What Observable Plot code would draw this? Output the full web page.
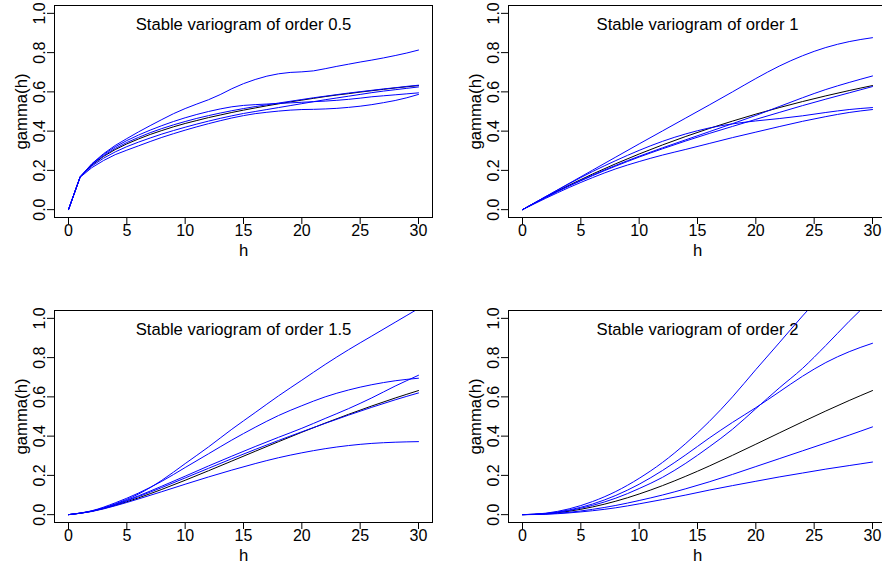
<!DOCTYPE html>
<html>
<head>
<meta charset="utf-8">
<script src="https://cdn.jsdelivr.net/npm/d3@7"></script>
<script src="https://cdn.jsdelivr.net/npm/@observablehq/plot@0.6"></script>
<style>
html, body { margin: 0; padding: 0; background: #fff; }
#wrap { position: relative; width: 882px; height: 569px; overflow: hidden; background: #fff; }
#wrap svg { position: absolute; }
</style>
</head>
<body>
<div id="wrap"></div>
<script>
// ---- tick labels ----
const xTicks = [0, 5, 10, 15, 20, 25, 30];
const yTicks = [0, 0.2, 0.4, 0.6, 0.8, 1.0];
const titles = [
  "Stable variogram of order 0.5",
  "Stable variogram of order 1",
  "Stable variogram of order 1.5",
  "Stable variogram of order 2"
];

// ---- lag distances ----
const hFine = [0,1,2,3,4,5,6,7,8,9,10,11,12,13,14,15,16,17,18,19,20,21,22,23,24,25,26,27,28,29,30];
const hCoarse = [0,2,4,6,8,10,12,14,16,18,20,22,24,26,28,30];

// ---- order 0.5 (h = hFine) ----
const order05Model = [0,0.167,0.227,0.271,0.306,0.335,0.360,0.383,0.403,0.422,0.439,0.454,0.469,0.482,0.495,0.507,0.518,0.529,0.539,0.549,0.558,0.567,0.576,0.584,0.591,0.599,0.606,0.613,0.620,0.626,0.632];
const order05Sim1 = [0,0.168,0.234,0.285,0.327,0.362,0.396,0.428,0.459,0.489,0.515,0.538,0.560,0.586,0.616,0.642,0.663,0.680,0.692,0.699,0.702,0.707,0.718,0.730,0.741,0.752,0.762,0.773,0.785,0.798,0.813];
const order05Sim2 = [0,0.168,0.232,0.281,0.320,0.352,0.380,0.405,0.428,0.449,0.468,0.485,0.500,0.513,0.524,0.531,0.535,0.538,0.541,0.544,0.547,0.550,0.553,0.557,0.562,0.568,0.575,0.580,0.585,0.590,0.595];
const order05Sim3 = [0,0.166,0.222,0.262,0.294,0.321,0.344,0.365,0.385,0.403,0.420,0.436,0.451,0.465,0.478,0.490,0.500,0.510,0.520,0.530,0.540,0.550,0.560,0.569,0.578,0.587,0.596,0.604,0.611,0.618,0.625];
const order05Sim4 = [0,0.165,0.214,0.250,0.280,0.303,0.325,0.347,0.368,0.387,0.405,0.422,0.438,0.453,0.467,0.479,0.489,0.496,0.502,0.507,0.510,0.511,0.513,0.516,0.521,0.527,0.535,0.545,0.556,0.570,0.587];
const order05Sim5 = [0,0.167,0.229,0.275,0.312,0.342,0.368,0.392,0.413,0.432,0.449,0.465,0.479,0.492,0.504,0.515,0.525,0.534,0.543,0.552,0.561,0.570,0.578,0.586,0.594,0.601,0.608,0.615,0.621,0.628,0.634];

// ---- order 1 (h = hCoarse) ----
const order1Model = [0,0.0645,0.1248,0.1813,0.2341,0.2835,0.3297,0.3729,0.4134,0.4512,0.4866,0.5197,0.5507,0.5797,0.6068,0.6321];
const order1Sim1 = [0,0.067,0.134,0.201,0.268,0.335,0.401,0.467,0.533,0.600,0.668,0.731,0.784,0.826,0.856,0.876];
const order1Sim2 = [0,0.063,0.122,0.176,0.226,0.272,0.315,0.356,0.397,0.438,0.480,0.525,0.570,0.612,0.648,0.681];
const order1Sim3 = [0,0.067,0.132,0.194,0.250,0.302,0.348,0.386,0.416,0.437,0.452,0.464,0.478,0.495,0.510,0.520];
const order1Sim4 = [0,0.063,0.120,0.173,0.222,0.268,0.310,0.350,0.388,0.424,0.460,0.495,0.530,0.563,0.595,0.627];
const order1Sim5 = [0,0.058,0.113,0.163,0.208,0.245,0.278,0.307,0.337,0.367,0.395,0.423,0.450,0.474,0.495,0.510];

// ---- order 1.5 (h = hCoarse) ----
const order15Model = [0,0.0171,0.0475,0.0856,0.1287,0.1751,0.2236,0.2730,0.3226,0.3717,0.4198,0.4663,0.5110,0.5537,0.5941,0.6321];
const order15Sim1 = [0,0.018,0.055,0.105,0.175,0.260,0.345,0.435,0.520,0.605,0.685,0.765,0.840,0.910,0.980,1.050];
const order15Sim2 = [0,0.020,0.060,0.110,0.170,0.240,0.310,0.380,0.445,0.505,0.555,0.600,0.635,0.662,0.682,0.695];
const order15Sim3 = [0,0.018,0.052,0.096,0.145,0.196,0.248,0.298,0.347,0.394,0.440,0.490,0.540,0.595,0.655,0.710];
const order15Sim4 = [0,0.018,0.050,0.092,0.138,0.187,0.236,0.285,0.332,0.378,0.422,0.465,0.507,0.547,0.585,0.620];
const order15Sim5 = [0,0.016,0.045,0.080,0.117,0.155,0.192,0.227,0.260,0.290,0.315,0.336,0.352,0.363,0.369,0.372];

// ---- order 2 (h = hCoarse) ----
const order2Model = [0,0.0044,0.0176,0.0392,0.0686,0.1052,0.1479,0.1957,0.2475,0.3023,0.3588,0.4160,0.4727,0.5281,0.5815,0.6321];
const order2Sim1 = [0,0.0074,0.0296,0.0666,0.118,0.185,0.266,0.363,0.474,0.600,0.739,0.875,1.012,1.140,1.260,1.370];
const order2Sim2 = [0,0.005,0.021,0.047,0.084,0.133,0.190,0.262,0.345,0.435,0.540,0.645,0.745,0.862,0.985,1.100];
const order2Sim3 = [0,0.006,0.024,0.054,0.098,0.155,0.225,0.305,0.390,0.470,0.545,0.625,0.705,0.775,0.830,0.873];
const order2Sim4 = [0,0.003,0.012,0.027,0.047,0.072,0.100,0.132,0.167,0.205,0.245,0.285,0.325,0.365,0.405,0.447];
const order2Sim5 = [0,0.002,0.009,0.020,0.035,0.055,0.077,0.100,0.125,0.148,0.170,0.192,0.212,0.232,0.250,0.268];

const panels = [
  {title: titles[0], h: hFine, model: order05Model, sims: [order05Sim1, order05Sim2, order05Sim3, order05Sim4, order05Sim5], curve: "linear", left: 0, top: 0},
  {title: titles[1], h: hCoarse, model: order1Model, sims: [order1Sim1, order1Sim2, order1Sim3, order1Sim4, order1Sim5], curve: "monotone-x", left: 454, top: 0},
  {title: titles[2], h: hCoarse, model: order15Model, sims: [order15Sim1, order15Sim2, order15Sim3, order15Sim4, order15Sim5], curve: "monotone-x", left: 0, top: 305},
  {title: titles[3], h: hCoarse, model: order2Model, sims: [order2Sim1, order2Sim2, order2Sim3, order2Sim4, order2Sim5], curve: "monotone-x", left: 454, top: 305}
];

const FONT = "'Liberation Sans', Arial, Helvetica, sans-serif";
const wrap = document.getElementById("wrap");

for (const p of panels) {
  const modelData = p.h.map((h, i) => ({h, g: p.model[i]}));
  const simData = p.sims.flatMap((s, k) => p.h.map((h, i) => ({h, g: s[i], run: k})));
  const svg = Plot.plot({
    width: 454,
    height: 305,
    marginLeft: 54,
    marginRight: 22,
    marginTop: 5,
    marginBottom: 88,
    style: {fontFamily: FONT, fontSize: "16px", color: "black", background: "white", overflow: "visible"},
    x: {domain: [-1.2, 31.2]},
    y: {domain: [-0.04, 1.04]},
    marks: [
      Plot.text([p.title], {text: d => d, frameAnchor: "top", dy: 24.5, lineAnchor: "bottom", fontSize: 16.67, fill: "black"}),
      Plot.line(modelData, {x: "h", y: "g", stroke: "black", strokeWidth: 1, curve: p.curve, clip: true}),
      Plot.line(simData, {x: "h", y: "g", z: "run", stroke: "#0000ff", strokeWidth: 1, curve: p.curve, clip: true}),
      Plot.frame({stroke: "black", strokeWidth: 1}),
      Plot.axisX(xTicks, {tickSize: 7, tickPadding: 0, fontSize: 16, label: null}),
      Plot.axisY(yTicks, {tickSize: 7, tickRotate: -90, tickFormat: d3.format(".1f"), fontSize: 16, label: null}),
      Plot.text(["h"], {text: d => d, frameAnchor: "bottom", dy: 38, lineAnchor: "bottom", fontSize: 16.67, fill: "black"}),
      Plot.text(["gamma(h)"], {text: d => d, frameAnchor: "left", dx: -28, rotate: -90, textAnchor: "middle", lineAnchor: "bottom", fontSize: 16.67, fill: "black"})
    ]
  });
  svg.style.left = p.left + "px";
  svg.style.top = p.top + "px";
  wrap.appendChild(svg);
}
</script>
</body>
</html>
